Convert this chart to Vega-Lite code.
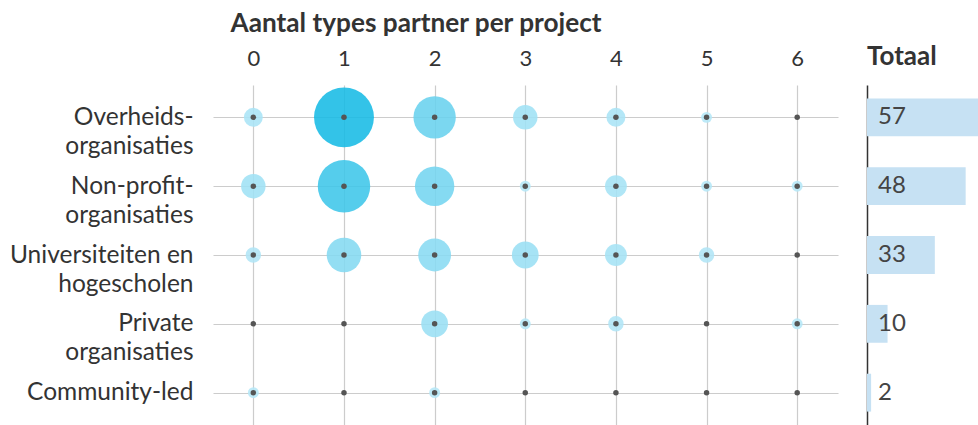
{
  "$schema": "https://vega.github.io/schema/vega-lite/v6.json",
  "background": "white",
  "padding": {"left": 9, "top": 10, "right": 0, "bottom": 0},
  "bounds": "flush",
  "spacing": 29,
  "config": {"view": {"stroke": null}, "font": "Lato"},
  "datasets": {
    "cells": [
      {"category": "Overheidsorganisaties", "partners": 0, "count": 3},
      {"category": "Overheidsorganisaties", "partners": 1, "count": 30},
      {"category": "Overheidsorganisaties", "partners": 2, "count": 15},
      {"category": "Overheidsorganisaties", "partners": 3, "count": 5},
      {"category": "Overheidsorganisaties", "partners": 4, "count": 3},
      {"category": "Overheidsorganisaties", "partners": 5, "count": 1},
      {"category": "Overheidsorganisaties", "partners": 6, "count": 0},
      {"category": "Non-profitorganisaties", "partners": 0, "count": 5},
      {"category": "Non-profitorganisaties", "partners": 1, "count": 23},
      {"category": "Non-profitorganisaties", "partners": 2, "count": 13},
      {"category": "Non-profitorganisaties", "partners": 3, "count": 1},
      {"category": "Non-profitorganisaties", "partners": 4, "count": 4},
      {"category": "Non-profitorganisaties", "partners": 5, "count": 1},
      {"category": "Non-profitorganisaties", "partners": 6, "count": 1},
      {"category": "Universiteiten en hogescholen", "partners": 0, "count": 2},
      {"category": "Universiteiten en hogescholen", "partners": 1, "count": 10},
      {"category": "Universiteiten en hogescholen", "partners": 2, "count": 9},
      {"category": "Universiteiten en hogescholen", "partners": 3, "count": 6},
      {"category": "Universiteiten en hogescholen", "partners": 4, "count": 4},
      {"category": "Universiteiten en hogescholen", "partners": 5, "count": 2},
      {"category": "Universiteiten en hogescholen", "partners": 6, "count": 0},
      {"category": "Private organisaties", "partners": 0, "count": 0},
      {"category": "Private organisaties", "partners": 1, "count": 0},
      {"category": "Private organisaties", "partners": 2, "count": 6},
      {"category": "Private organisaties", "partners": 3, "count": 1},
      {"category": "Private organisaties", "partners": 4, "count": 2},
      {"category": "Private organisaties", "partners": 5, "count": 0},
      {"category": "Private organisaties", "partners": 6, "count": 1},
      {"category": "Community-led", "partners": 0, "count": 1},
      {"category": "Community-led", "partners": 1, "count": 0},
      {"category": "Community-led", "partners": 2, "count": 1},
      {"category": "Community-led", "partners": 3, "count": 0},
      {"category": "Community-led", "partners": 4, "count": 0},
      {"category": "Community-led", "partners": 5, "count": 0},
      {"category": "Community-led", "partners": 6, "count": 0}
    ],
    "totals": [
      {"category": "Overheidsorganisaties", "total": 57},
      {"category": "Non-profitorganisaties", "total": 48},
      {"category": "Universiteiten en hogescholen", "total": 33},
      {"category": "Private organisaties", "total": 10},
      {"category": "Community-led", "total": 2}
    ]
  },
  "resolve": {"scale": {"y": "independent", "x": "independent"}},
  "hconcat": [
    {
      "width": 625,
      "height": 340,
      "data": {"name": "cells"},
      "encoding": {
        "x": {
          "field": "partners",
          "type": "quantitative",
          "scale": {"domain": [-0.445, 6.45], "nice": false, "zero": false},
          "axis": {
            "orient": "top",
            "values": [0, 1, 2, 3, 4, 5, 6],
            "title": "Aantal types partner per project",
            "titleFontWeight": "bold",
            "titleFontSize": 26.2,
            "titleColor": "#333333",
            "titleAnchor": "start",
            "titleAlign": "left",
            "titleX": 17,
            "titlePadding": 10,
            "labelFontSize": 22,
            "labelColor": "#333333",
            "labelPadding": 15,
            "labelFlush": false,
            "ticks": false,
            "domain": false,
            "grid": true,
            "gridColor": "#cccccc",
            "gridWidth": 1.2
          }
        },
        "y": {
          "field": "category",
          "type": "nominal",
          "sort": ["Overheidsorganisaties", "Non-profitorganisaties", "Universiteiten en hogescholen", "Private organisaties", "Community-led"],
          "scale": {"type": "point", "padding": 0.47},
          "axis": {
            "title": null,
            "labelExpr": "datum.value == 'Overheidsorganisaties' ? ['Overheids-', 'organisaties'] : datum.value == 'Non-profitorganisaties' ? ['Non-profit-', 'organisaties'] : datum.value == 'Universiteiten en hogescholen' ? ['Universiteiten en', 'hogescholen'] : datum.value == 'Private organisaties' ? ['Private', 'organisaties'] : datum.label",
            "labelFontSize": 24.5,
            "labelLineHeight": 29,
            "labelColor": "#333333",
            "labelPadding": 20,
            "labelLimit": 400,
            "ticks": false,
            "domain": false,
            "grid": true,
            "gridColor": "#cccccc",
            "gridWidth": 1.2
          }
        }
      },
      "layer": [
        {
          "mark": {"type": "circle", "opacity": 0.88},
          "encoding": {
            "size": {"field": "count", "type": "quantitative", "scale": {"domain": [0, 30], "range": [0, 3590]}, "legend": null},
            "color": {"field": "count", "type": "quantitative", "scale": {"domain": [1, 30], "range": ["#b5e7f7", "#17bbe5"], "interpolate": "rgb"}, "legend": null}
          }
        },
        {
          "mark": {"type": "circle", "size": 30, "color": "#555555", "opacity": 1},
          "encoding": {}
        }
      ]
    },
    {
      "width": 111,
      "height": 340,
      "data": {"name": "totals"},
      "title": {"text": "Totaal", "anchor": "start", "fontSize": 26, "fontWeight": "bold", "color": "#333333", "baseline": "alphabetic", "offset": -6},
      "encoding": {
        "y": {
          "field": "category",
          "type": "nominal",
          "sort": ["Overheidsorganisaties", "Non-profitorganisaties", "Universiteiten en hogescholen", "Private organisaties", "Community-led"],
          "scale": {"type": "band", "paddingInner": 0.45, "paddingOuter": 0.195},
          "axis": {"title": null, "labels": false, "ticks": false, "domain": true, "domainColor": "#333333", "domainWidth": 1.5, "grid": false}
        }
      },
      "layer": [
        {
          "mark": {"type": "bar", "color": "#c6e1f3", "clip": true},
          "encoding": {
            "x": {"field": "total", "type": "quantitative", "scale": {"domain": [0, 54], "nice": false}, "axis": null}
          }
        },
        {
          "mark": {"type": "text", "align": "left", "baseline": "middle", "dx": 11, "fontSize": 24, "color": "#444444"},
          "encoding": {
            "x": {"datum": 0, "type": "quantitative"},
            "text": {"field": "total", "type": "quantitative"}
          }
        }
      ]
    }
  ]
}
